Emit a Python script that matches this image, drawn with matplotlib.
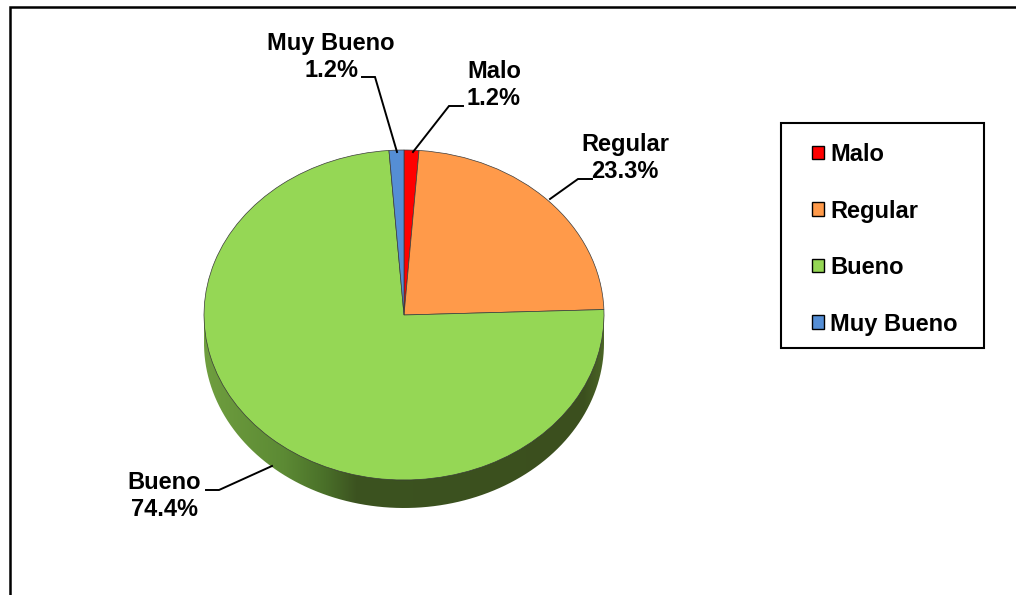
import matplotlib
matplotlib.use('Agg')
import matplotlib.pyplot as plt
import numpy as np
from matplotlib.patches import PathPatch, Rectangle
from matplotlib.path import Path
from matplotlib.colors import LinearSegmentedColormap

plt.rcParams['font.family'] = ['Liberation Sans', 'DejaVu Sans']

categories = ['Malo', 'Regular', 'Bueno', 'Muy Bueno']
percents = [1.2, 23.3, 74.4, 1.2]
colors = ['#FF0000', '#FF9A4A', '#95D755', '#558ED5']

W, H = 1016, 595
cx, cy, rx, ry, depth = 404, 315, 200, 165, 28

fig = plt.figure(figsize=(W / 100, H / 100), dpi=100)

# background layer in pixel coordinates
bg = fig.add_axes([0, 0, 1, 1])
bg.set_xlim(0, W)
bg.set_ylim(H, 0)
bg.axis('off')
bg.plot([10, 10, W + 5], [H + 5, 7, 7], color='black', lw=1.8, solid_joinstyle='miter')

# side wall of the 3d pie
t = np.linspace(0, np.pi, 200)
xs = cx + rx * np.cos(t)
ys = cy + ry * np.sin(t)
verts = np.vstack([np.column_stack([xs, ys + depth]), [[cx - rx, cy]], [[cx + rx, cy]], [[cx + rx, cy + depth]]])
wall = Path(verts)
cmap = LinearSegmentedColormap.from_list('wall', [(0, '#6F9E3F'), (0.2, '#5C8A34'), (0.3, '#4A7029'),
                                                  (0.38, '#3C5320'), (0.95, '#3B4F1E'), (1, '#4A6426')])
im = bg.imshow(np.linspace(0, 1, 256).reshape(1, -1), cmap=cmap, aspect='auto',
               extent=(cx - rx, cx + rx, cy + ry + depth, cy), zorder=1)
im.set_clip_path(PathPatch(wall, transform=bg.transData))
bg.set_xlim(0, W)
bg.set_ylim(H, 0)

# pie axes: 2.5 data units across, squashed to the ellipse
ax = fig.add_axes([(cx - 1.25 * rx) / W, 1 - (cy + 1.25 * ry) / H, 2.5 * rx / W, 2.5 * ry / H])
wedges, _ = ax.pie(percents, colors=colors, startangle=90, counterclock=False,
                   wedgeprops={'edgecolor': '#3A3A3A', 'linewidth': 0.5})
ax.set_aspect('auto')
ax.set_xlim(-1.25, 1.25)
ax.set_ylim(-1.25, 1.25)
ax.patch.set_alpha(0)

# labels and leaders on top
top = fig.add_axes([0, 0, 1, 1])
top.set_xlim(0, W)
top.set_ylim(H, 0)
top.axis('off')
label_pos = [(494, 85), (625, 158), (164, 496), (331, 57)]
leaders = [[(463, 106), (449, 106), (413, 152)],
           [(592, 179), (578, 179), (550, 199)],
           [(206, 490), (219, 490), (272, 466)],
           [(362, 77), (375, 77), (397, 152)]]
for name, pct, (lx, ly), line in zip(categories, percents, label_pos, leaders):
    top.text(lx, ly, f'{name}\n{pct:.1f}%', ha='center', va='center', fontsize=17,
             fontweight='bold', color='black', linespacing=1.25)
    top.plot(*zip(*line), color='black', lw=1.4, solid_joinstyle='miter')

top.add_patch(Rectangle((781, 123), 203, 225, fill=False, ec='black', lw=1.5))
leg = top.legend(wedges, categories, loc='upper left', bbox_to_anchor=(812 / W, 1 - 143 / H),
                 bbox_transform=fig.transFigure, frameon=False,
                 prop={'weight': 'bold', 'size': 17}, labelspacing=1.42, handlelength=0.5,
                 handleheight=0.5, handletextpad=0.28, borderpad=0, borderaxespad=0)
for h in leg.get_patches():
    h.set_edgecolor('black')
    h.set_linewidth(1.0)

fig.savefig('out.png', dpi=100)
